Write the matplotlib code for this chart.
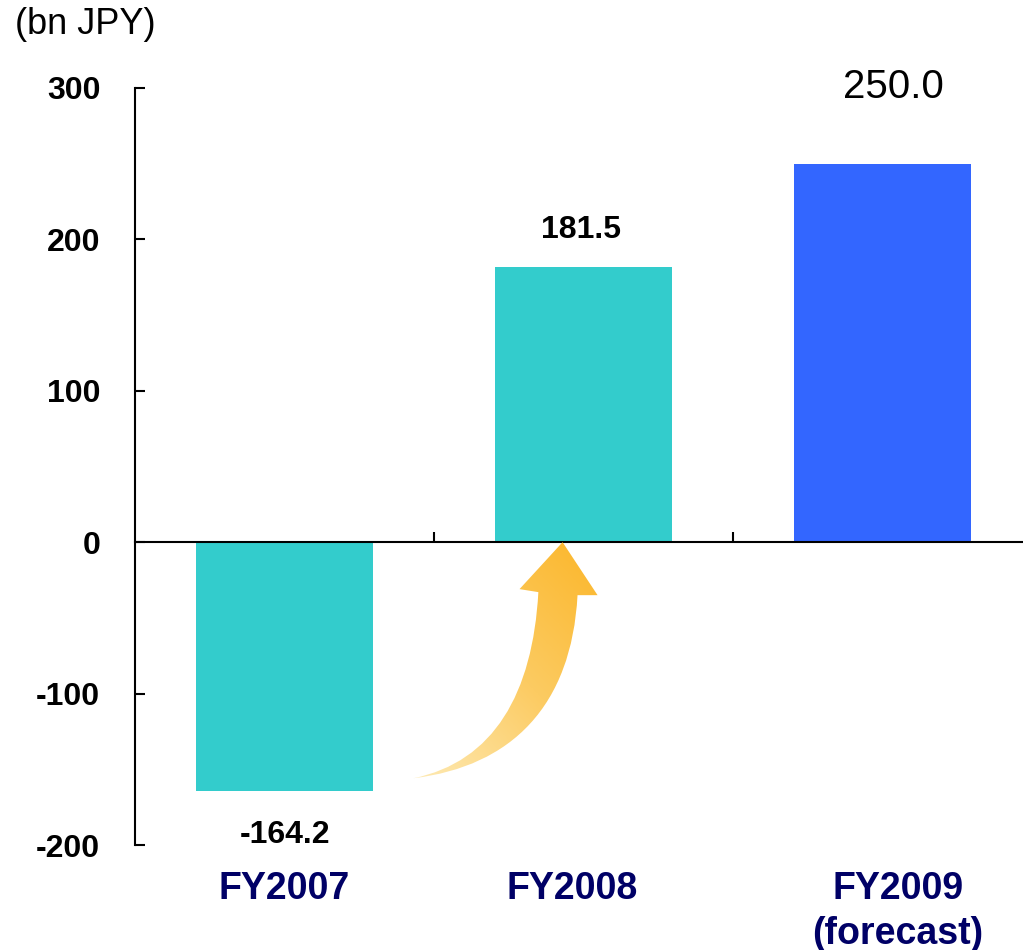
import numpy as np
import matplotlib.pyplot as plt
from matplotlib.path import Path
from matplotlib.patches import PathPatch
from matplotlib.colors import LinearSegmentedColormap

plt.rcParams['font.family'] = ['Liberation Sans', 'DejaVu Sans']

categories = ['FY2007', 'FY2008', 'FY2009\n(forecast)']
values = [-164.2, 181.5, 250.0]
bar_colors = ['#33CCCC', '#33CCCC', '#3366FF']
yticks = [-200, -100, 0, 100, 200, 300]

fig = plt.figure(figsize=(10.23, 9.5), dpi=100)
ax = fig.add_axes([0.132, 0.1105, 0.868, 0.797])

x = np.arange(len(categories))
ax.bar(x, values, width=0.595, color=bar_colors, zorder=2)

ax.set_xlim(-0.5, 2.47)
ax.set_ylim(-200, 300)

# axes styling: only left spine and the zero line
for side in ('top', 'right'):
    ax.spines[side].set_visible(False)
ax.spines['bottom'].set_position(('data', 0))
for side in ('left', 'bottom'):
    ax.spines[side].set_linewidth(1.5)
    ax.spines[side].set_zorder(3)

ax.set_yticks(yticks)
ax.set_yticklabels([str(v) for v in yticks], fontsize=23, fontweight='bold')
ax.tick_params(axis='y', direction='in', length=7, width=1.5, pad=25)
ax.set_xticks([0.5, 1.5])
ax.set_xticklabels([])
ax.tick_params(axis='x', direction='in', length=7, width=1.5)

# category labels under the plot (slightly shifted like the slide layout)
label_shift = [0, -8, 11]
for xi, name, dx in zip(x, categories, label_shift):
    ax.annotate(name, (xi, 0), xycoords=('data', 'axes fraction'),
                xytext=(dx, -19), textcoords='offset points',
                ha='center', va='top', fontsize=27, fontweight='bold',
                color='#000066', linespacing=1.3)

# value labels
ax.annotate(f'{values[0]:.1f}', (x[0], values[0]), xytext=(0, -32),
            textcoords='offset points', ha='center', va='center',
            fontsize=23, fontweight='bold')
ax.annotate(f'{values[1]:.1f}', (x[1], values[1]), xytext=(-2, 27),
            textcoords='offset points', ha='center', va='center',
            fontsize=23, fontweight='bold')
ax.annotate(f'{values[2]:.1f}', (x[2], values[2]), xytext=(8, 55),
            textcoords='offset points', ha='center', va='center',
            fontsize=29)

fig.text(15 / 1023, 1 - 25 / 950, '(bn JPY)', ha='left', va='center', fontsize=26)

# curved gradient arrow from the FY2007 bar up to FY2008
verts = [
    (0.431, -155.9),
    (0.76, -148), (0.96, -108), (0.980, -35),
    (1.047, -35),
    (0.930, 0),
    (0.786, -31),
    (0.849, -33),
    (0.83, -100), (0.70, -145), (0.431, -155.9),
    (0.431, -155.9),
]
codes = [Path.MOVETO,
         Path.CURVE4, Path.CURVE4, Path.CURVE4,
         Path.LINETO, Path.LINETO, Path.LINETO, Path.LINETO,
         Path.CURVE4, Path.CURVE4, Path.CURVE4,
         Path.CLOSEPOLY]
arrow = PathPatch(Path(verts, codes), facecolor='none', edgecolor='none', zorder=4)
ax.add_patch(arrow)

cmap = LinearSegmentedColormap.from_list('glow', ['#FEEAB4', '#FCCB62', '#FBB62A'])
gx, gy = np.meshgrid(np.linspace(0, 1, 200), np.linspace(0, 1, 200))
grad = 0.45 * gx + 0.55 * gy
img = ax.imshow(grad, cmap=cmap, origin='lower', aspect='auto',
                extent=(0.43, 1.05, -157, 0), zorder=4, interpolation='bilinear')
img.set_clip_path(arrow)

ax.set_xlim(-0.5, 2.47)
ax.set_ylim(-200, 300)

fig.savefig('out.png', dpi=100, facecolor='white')
